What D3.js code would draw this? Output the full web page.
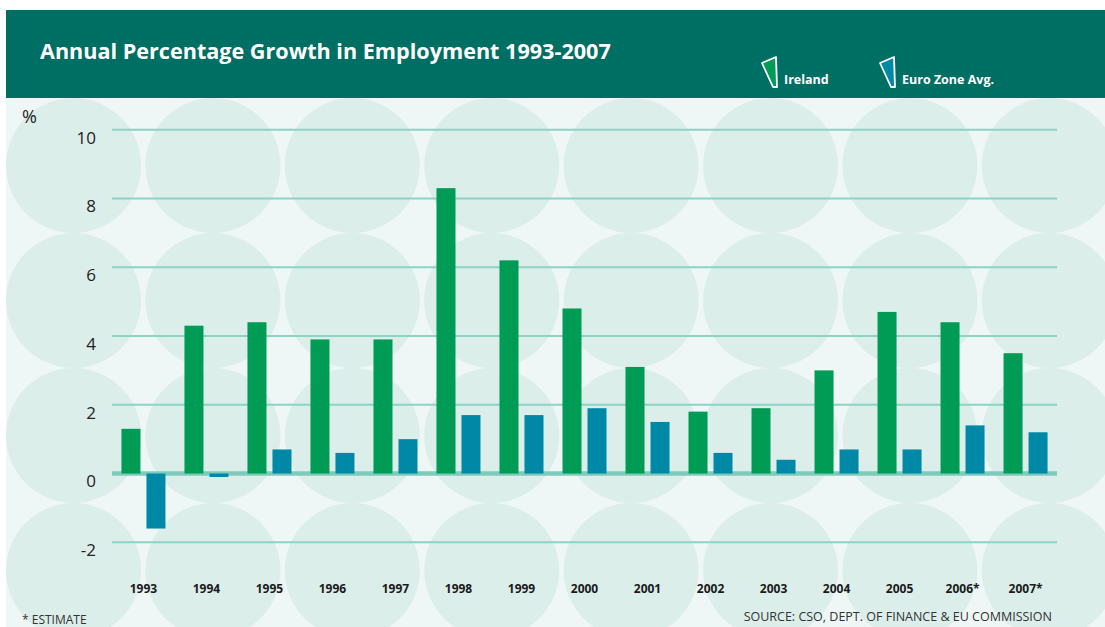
<!DOCTYPE html>
<html>
<head>
<meta charset="utf-8">
<script src="https://cdn.jsdelivr.net/npm/d3@7"></script>
<style>
  html, body { margin: 0; padding: 0; background: #ffffff; }
  svg { display: block; }
</style>
</head>
<body>
<svg id="chart" width="1105" height="627"></svg>
<script>
// Annual employment growth, Ireland vs. euro-zone average
const years = ["1993", "1994", "1995", "1996", "1997", "1998", "1999", "2000",
               "2001", "2002", "2003", "2004", "2005", "2006*", "2007*"];
const ireland = [1.3, 4.3, 4.4, 3.9, 3.9, 8.3, 6.2, 4.8, 3.1, 1.8, 1.9, 3.0, 4.7, 4.4, 3.5];
const euroZone = [-1.6, -0.1, 0.7, 0.6, 1.0, 1.7, 1.7, 1.9, 1.5, 0.6, 0.4, 0.7, 0.7, 1.4, 1.2];
const seriesNames = ["Ireland", "Euro Zone Avg."];
const yTicks = [-2, 0, 2, 4, 6, 8, 10];

const colors = { "Ireland": "#009b55", "Euro Zone Avg.": "#0089a6" };
const svg = d3.select("#chart");
const W = 1105, H = 627;
const font = "'Open Sans', 'Noto Sans', sans-serif";

// Panel background with soft circle pattern
svg.append("rect").attr("x", 6).attr("y", 98).attr("width", W - 6).attr("height", H - 98)
  .attr("fill", "#eef7f5");
svg.append("clipPath").attr("id", "panelClip")
  .append("rect").attr("x", 6).attr("y", 98).attr("width", W - 6).attr("height", H - 98);
const pattern = svg.append("g").attr("clip-path", "url(#panelClip)");
const circleCols = d3.range(8), circleRows = d3.range(4);
circleRows.forEach(r => {
  circleCols.forEach(c => {
    pattern.append("circle")
      .attr("cx", 73.5 + c * 139.4)
      .attr("cy", 165.5 + r * 135)
      .attr("r", 67.5)
      .attr("fill", "#dbeeea");
  });
});

// Header band
svg.append("rect").attr("x", 6).attr("y", 10).attr("width", W - 6).attr("height", 88)
  .attr("fill", "#006f63");
svg.append("text").attr("x", 40).attr("y", 59)
  .attr("fill", "#ffffff")
  .attr("font-family", font)
  .attr("font-weight", 700).attr("font-size", 21.6)
  .text("Annual Percentage Growth in Employment 1993-2007");

// Scales
const x0 = d3.scaleBand().domain(years).range([112, 1057])
  .paddingInner(19 / 63).paddingOuter(0.15);
const x1 = d3.scaleBand().domain(seriesNames).range([0, x0.bandwidth()])
  .paddingInner(0.24).paddingOuter(0);
const y = d3.scaleLinear().domain([-2, 10]).range([542.3, 129.7]);

// Gridlines
const grid = svg.append("g");
grid.selectAll("line.grid").data(yTicks.filter(d => d !== 0)).join("line")
  .attr("x1", 112).attr("x2", 1057)
  .attr("y1", d => y(d)).attr("y2", d => y(d))
  .attr("stroke", "#8dd3c4").attr("stroke-width", 2);
grid.append("line")
  .attr("x1", 112).attr("x2", 1057)
  .attr("y1", y(0)).attr("y2", y(0))
  .attr("stroke", "#7ecbbb").attr("stroke-width", 4.5);

// Y axis labels (plain hyphen for negatives)
const yAxis = d3.axisLeft(y).tickValues(yTicks).tickSize(0).tickPadding(0)
  .tickFormat(d => String(d));
const yG = svg.append("g").attr("transform", "translate(96,8)").call(yAxis);
yG.select(".domain").remove();
yG.selectAll("text")
  .attr("font-family", font)
  .attr("font-weight", 400).attr("font-size", 17).attr("fill", "#222");
svg.append("text").attr("x", 22).attr("y", 123)
  .attr("font-family", font)
  .attr("font-weight", 400).attr("font-size", 18).attr("fill", "#222")
  .text("%");

// Bars
const groups = svg.append("g").selectAll("g").data(years).join("g")
  .attr("transform", d => `translate(${x0(d)},0)`);
groups.selectAll("rect")
  .data((d, i) => [
    { key: "Ireland", value: ireland[i] },
    { key: "Euro Zone Avg.", value: euroZone[i] }
  ])
  .join("rect")
  .attr("x", d => x1(d.key))
  .attr("width", x1.bandwidth())
  .attr("y", d => y(Math.max(0, d.value)))
  .attr("height", d => Math.abs(y(d.value) - y(0)))
  .attr("fill", d => colors[d.key]);

// X axis labels
const xAxis = d3.axisBottom(x0).tickSize(0).tickPadding(0);
const xG = svg.append("g").attr("transform", "translate(0,584)").call(xAxis);
xG.select(".domain").remove();
xG.selectAll("text")
  .attr("font-family", font)
  .attr("font-weight", 700).attr("font-size", 12).attr("fill", "#1a1a1a");

// Legend in header
const legend = svg.append("g");
seriesNames.forEach((name, i) => {
  const lx = 762 + i * 118;
  const g = legend.append("g").attr("transform", `translate(${lx},0)`);
  g.append("path")
    .attr("d", "M0,63 L14,57 L15,87 L11,87 Z")
    .attr("fill", colors[name]).attr("stroke", "#ffffff")
    .attr("stroke-width", 1.8).attr("stroke-linejoin", "round");
  g.append("text").attr("x", 22).attr("y", 84)
    .attr("fill", "#ffffff")
    .attr("font-family", font)
    .attr("font-weight", 700).attr("font-size", 12.5)
    .text(name);
});

// Footnotes
svg.append("text").attr("x", 22).attr("y", 624)
  .attr("font-family", font)
  .attr("font-weight", 400).attr("font-size", 12).attr("fill", "#333")
  .text("* ESTIMATE");
svg.append("text").attr("x", 1052).attr("y", 621).attr("text-anchor", "end")
  .attr("font-family", font)
  .attr("font-weight", 400).attr("font-size", 12.5).attr("fill", "#333")
  .text("SOURCE: CSO, DEPT. OF FINANCE & EU COMMISSION");
</script>
</body>
</html>
